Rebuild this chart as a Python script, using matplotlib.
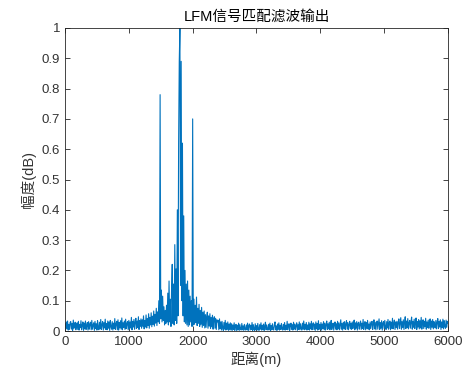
import numpy as np
import matplotlib
matplotlib.use("Agg")
import matplotlib.pyplot as plt

plt.rcParams['font.family'] = ['Liberation Sans', 'Noto Sans CJK SC', 'DejaVu Sans']

title = "LFM信号匹配滤波输出"
xlabel = "距离(m)"
ylabel = "幅度(dB)"
x_ticks = [0, 1000, 2000, 3000, 4000, 5000, 6000]
y_ticks = [0, 0.1, 0.2, 0.3, 0.4, 0.5, 0.6, 0.7, 0.8, 0.9, 1.0]
y_tick_labels = ["0", "0.1", "0.2", "0.3", "0.4", "0.5", "0.6", "0.7", "0.8", "0.9", "1"]

# distance sample step (m)
step = 10
# amplitude in thousandths, one row = 200 m
amp_milli = [
    24, 4, 30, 8, 33, 3, 22, 5, 28, 31, 6, 25, 2, 36, 9, 20, 29, 4, 17, 27,
    5, 32, 3, 21, 11, 34, 4, 19, 30, 2, 26, 7, 33, 5, 18, 28, 3, 31, 6, 23,
    29, 4, 35, 6, 19, 27, 2, 32, 8, 24, 3, 34, 12, 4, 29, 7, 38, 5, 21, 31,
    3, 27, 10, 39, 5, 25, 4, 33, 9, 30, 2, 35, 14, 6, 31, 3, 26, 8, 41, 5,
    24, 32, 4, 37, 3, 28, 10, 34, 6, 43, 4, 27, 12, 33, 5, 39, 8, 25, 31, 4,
    35, 7, 30, 10, 45, 4, 32, 13, 38, 6, 29, 42, 8, 33, 12, 47, 5, 34, 15, 40,
    9, 37, 16, 50, 7, 35, 13, 53, 10, 41, 18, 57, 9, 45, 20, 60, 14, 49, 22, 66,
    16, 55, 26, 75, 18, 63, 30, 100, 25, 780, 40, 135, 30, 115, 35, 80, 20, 68, 25, 85,
    30, 125, 20, 165, 30, 105, 15, 145, 220, 25, 155, 20, 285, 35, 205, 25, 400, 50, 620, 890,
    1000, 150, 890, 100, 620, 50, 380, 30, 200, 25, 155, 20, 165, 15, 135, 20, 115, 30, 100, 15,
    700, 20, 105, 22, 85, 28, 112, 18, 75, 25, 88, 15, 68, 22, 78, 12, 62, 18, 66, 10,
    54, 12, 48, 62, 9, 50, 16, 57, 8, 45, 14, 52, 6, 40, 47, 9, 42, 5, 37, 30,
    35, 4, 40, 8, 30, 3, 32, 10, 2, 28, 6, 35, 3, 26, 5, 30, 2, 23, 4, 27,
    3, 24, 2, 20, 5, 27, 2, 18, 22, 1, 19, 4, 26, 2, 21, 6, 3, 25, 4, 17,
    2, 22, 5, 3, 20, 4, 26, 2, 17, 23, 3, 19, 5, 28, 2, 21, 6, 2, 24, 4,
    18, 3, 25, 5, 2, 21, 6, 27, 3, 19, 4, 23, 2, 17, 29, 4, 20, 5, 3, 22,
    4, 26, 2, 18, 4, 24, 6, 3, 21, 30, 4, 17, 2, 23, 5, 27, 3, 19, 5, 25,
    6, 3, 22, 4, 28, 3, 19, 5, 32, 4, 20, 24, 2, 18, 26, 5, 21, 3, 29, 6,
    23, 4, 18, 27, 2, 21, 5, 30, 4, 24, 7, 3, 26, 6, 33, 4, 22, 6, 28, 3,
    20, 5, 29, 3, 24, 7, 32, 4, 21, 27, 5, 23, 2, 30, 7, 25, 3, 34, 6, 22,
    5, 28, 3, 23, 8, 31, 4, 26, 3, 21, 33, 5, 24, 7, 29, 4, 22, 35, 5, 20,
    26, 3, 21, 30, 6, 24, 4, 32, 7, 27, 4, 22, 37, 6, 25, 3, 29, 8, 31, 5,
    23, 34, 6, 28, 4, 21, 32, 7, 26, 5, 30, 8, 24, 36, 4, 27, 9, 31, 3, 25,
    29, 6, 22, 33, 5, 26, 8, 38, 5, 24, 31, 4, 28, 9, 35, 6, 23, 4, 30, 8,
    26, 32, 5, 23, 37, 7, 29, 4, 25, 33, 6, 22, 40, 5, 28, 9, 34, 3, 26, 31,
    8, 35, 12, 5, 31, 10, 38, 6, 27, 33, 4, 29, 9, 42, 7, 25, 36, 5, 30, 11,
    32, 6, 28, 40, 8, 26, 44, 6, 31, 11, 37, 5, 29, 47, 8, 33, 12, 41, 7, 27,
    35, 9, 30, 46, 6, 32, 12, 39, 8, 28, 43, 5, 31, 13, 38, 7, 34, 10, 45, 6,
    29, 37, 8, 32, 14, 42, 6, 30, 11, 36, 9, 28, 40, 5, 33, 12, 38, 7, 31, 14,
    10, 35, 7, 29, 41, 8, 32, 13, 37, 5, 30, 11, 39, 7, 34, 15, 9, 36, 12, 32,
    26,
]

amplitude = np.array(amp_milli) / 1000.0
distance = np.arange(len(amplitude)) * step

fig = plt.figure(figsize=(4.77, 3.74), dpi=100)
fig.patch.set_facecolor('white')
ax = fig.add_axes([65/477, 43/374, 383/477, 303/374])
ax.plot(distance, amplitude, color='#0072BD', linewidth=0.8)
ax.set_xlim(0, 6000)
ax.set_ylim(0, 1)
ax.set_xticks(x_ticks)
ax.set_yticks(y_ticks)
ax.set_yticklabels(y_tick_labels)
ax.tick_params(direction='in', top=True, right=True, length=3.5, width=0.6,
               colors='#262626', labelsize=9.5, labelcolor='#333333')
for s in ax.spines.values():
    s.set_linewidth(0.6)
    s.set_color('#262626')
ax.set_title(title, fontsize=10.5, color='#000000', pad=5)
ax.set_xlabel(xlabel, fontsize=10.5, color='#333333', labelpad=3)
ax.set_ylabel(ylabel, fontsize=10.5, color='#333333', labelpad=4)
fig.savefig('out.png', dpi=100, facecolor='white')
